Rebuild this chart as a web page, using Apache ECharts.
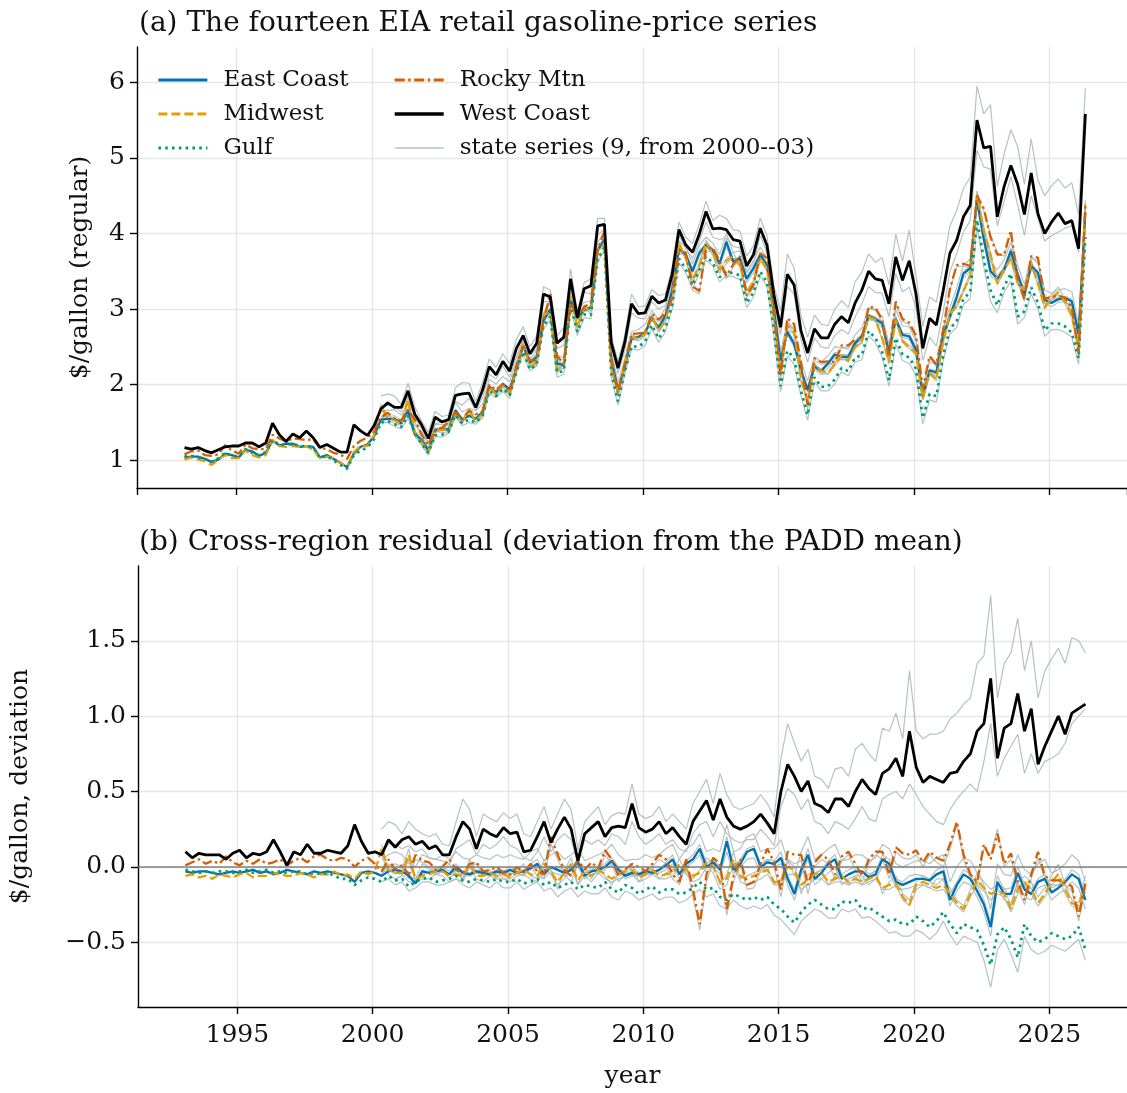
<!DOCTYPE html>
<html>
<head>
<meta charset="utf-8">
<script src="https://cdn.jsdelivr.net/npm/echarts@6/dist/echarts.min.js"></script>
<style>
  html, body { margin: 0; padding: 0; background: #ffffff; }
  #chart { width: 1127px; height: 1093px; }
</style>
</head>
<body>
<div id="chart"></div>
<script>
// Quarterly observations, February 1993 to May 2026 ($/gallon, regular grade)
const firstObs = 1993 + 1 / 12;
const stepYears = 0.25;
const stateStart = 29;          // first state observation: May 2000

// Mean of the five PADD series
const paddMean = [
  1.07,1.09,1.08,1.05, 1.02,1.06,1.13,1.10, 1.08,1.17,1.14,1.10, 1.13,1.31,1.24,1.24,
  1.25,1.22,1.24,1.21, 1.08,1.10,1.06,1.02, 0.97,1.19,1.22,1.24, 1.36,1.60,1.58,1.57,
  1.52,1.72,1.46,1.30, 1.17,1.43,1.43,1.46, 1.66,1.58,1.64,1.58, 1.68,2.02,1.93,2.05,
  1.96,2.25,2.55,2.30, 2.35,2.90,3.00,2.30, 2.30,3.15,2.85,3.05, 3.05,3.80,3.92,2.30,
  1.95,2.30,2.65,2.68, 2.72,2.92,2.78,2.90, 3.20,3.85,3.70,3.45, 3.62,3.85,3.75,3.62,
  3.72,3.65,3.65,3.30, 3.42,3.72,3.55,2.98, 2.26,2.78,2.72,2.22, 1.85,2.32,2.22,2.26,
  2.35,2.45,2.42,2.58, 2.67,2.98,2.92,2.76, 2.42,2.97,2.78,2.74, 2.54,1.92,2.28,2.21,
  2.68,3.12,3.28,3.52, 3.62,4.60,4.18,3.90, 3.50,3.70,3.95,3.50, 3.35,3.75,3.58,3.20,
  3.25,3.27,3.25,3.15, 2.75,4.50
];

// Deviation of each PADD from the PADD mean
const devEastCoast = [
  -0.03,-0.04,-0.03,-0.03, -0.04,-0.05,-0.04,-0.03, -0.04,-0.03,-0.02,-0.04, -0.03,-0.05,-0.04,-0.02,
  -0.03,-0.04,-0.05,-0.03, -0.04,-0.03,-0.04,-0.05, -0.06,-0.10,-0.04,-0.03, -0.04,-0.06,-0.03,-0.02,
  -0.03,-0.06,-0.11,-0.03, -0.04,-0.03,-0.02,-0.05, 0.00,-0.04,-0.05,-0.03, -0.04,-0.05,-0.03,-0.04,
  -0.02,-0.04,-0.03,-0.01, 0.02,-0.05,0.00,-0.02, -0.04,-0.02,0.03,-0.06, -0.03,-0.02,0.00,0.04,
  -0.02,-0.06,-0.04,-0.05, -0.03,-0.04,-0.02,0.01, 0.05,-0.05,0.02,0.05, 0.12,0.00,0.03,-0.02,
  0.17,-0.02,0.02,0.10, 0.12,0.00,0.03,0.02, 0.06,-0.08,-0.18,-0.02, 0.08,-0.08,-0.04,0.02,
  0.05,-0.08,-0.05,-0.03, -0.03,-0.07,-0.05,0.05, 0.02,-0.10,-0.12,-0.10, -0.08,-0.08,-0.09,-0.05,
  -0.03,-0.22,-0.12,-0.05, -0.08,-0.16,-0.25,-0.40, -0.10,-0.18,-0.18,-0.04, -0.15,-0.18,-0.10,-0.08,
  -0.17,-0.14,-0.10,-0.05, -0.08,-0.22
];
const devMidwest = [
  -0.06,-0.05,-0.07,-0.06, -0.08,-0.05,-0.06,-0.07, -0.05,-0.04,-0.07,-0.06, -0.06,-0.04,-0.05,-0.06,
  -0.06,-0.04,-0.05,-0.07, -0.05,-0.05,-0.03,-0.06, -0.05,-0.08,-0.03,-0.05, -0.03,0.12,-0.02,-0.04,
  -0.04,0.08,-0.08,-0.06, -0.05,-0.03,-0.03,-0.06, -0.05,-0.06,0.02,-0.06, -0.06,-0.04,-0.06,-0.05,
  -0.07,-0.04,-0.02,-0.05, -0.06,0.02,-0.03,-0.10, -0.04,0.02,-0.09,-0.03, -0.06,-0.02,-0.05,-0.08,
  -0.05,-0.03,-0.02,-0.07, -0.05,-0.02,-0.06,-0.05, -0.04,0.02,-0.02,-0.06, -0.04,0.03,0.00,-0.10,
  -0.08,0.05,-0.06,-0.08, -0.06,-0.04,-0.02,-0.10, -0.10,0.00,-0.02,-0.12, -0.08,-0.05,-0.04,-0.10,
  -0.08,-0.06,-0.10,-0.08, -0.10,-0.08,-0.06,-0.14, -0.12,-0.11,-0.20,-0.25, -0.12,-0.10,-0.12,-0.14,
  -0.12,-0.18,-0.24,-0.28, -0.18,-0.09,-0.14,-0.18, -0.16,-0.18,-0.28,-0.15, -0.10,-0.15,-0.24,-0.18,
  -0.10,-0.05,-0.15,-0.24, -0.26,-0.12
];
const devGulf = [
  -0.02,-0.03,-0.04,-0.03, -0.04,-0.03,-0.03,-0.04, -0.03,-0.02,-0.04,-0.03, -0.02,-0.04,-0.03,-0.04,
  -0.03,-0.03,-0.05,-0.04, -0.05,-0.04,-0.06,-0.08, -0.08,-0.12,-0.09,-0.07, -0.08,-0.10,-0.06,-0.09,
  -0.08,-0.13,-0.10,-0.08, -0.07,-0.10,-0.09,-0.08, -0.06,-0.09,-0.10,-0.08, -0.09,-0.10,-0.08,-0.10,
  -0.10,-0.08,-0.11,-0.10, -0.08,-0.12,-0.10,-0.14, -0.12,-0.10,-0.15,-0.12, -0.13,-0.14,-0.10,-0.15,
  -0.17,-0.12,-0.14,-0.18, -0.15,-0.13,-0.17,-0.15, -0.15,-0.18,-0.17,-0.14, -0.10,-0.15,-0.14,-0.20,
  -0.22,-0.18,-0.20,-0.22, -0.20,-0.22,-0.20,-0.25, -0.28,-0.33,-0.37,-0.30, -0.25,-0.22,-0.25,-0.28,
  -0.28,-0.23,-0.24,-0.22, -0.28,-0.27,-0.30,-0.33, -0.36,-0.35,-0.38,-0.38, -0.33,-0.36,-0.40,-0.36,
  -0.30,-0.38,-0.44,-0.38, -0.40,-0.42,-0.52,-0.65, -0.45,-0.40,-0.48,-0.60, -0.38,-0.46,-0.50,-0.48,
  -0.44,-0.46,-0.48,-0.46, -0.40,-0.55
];
const devRockyMtn = [
  0.01,0.03,0.05,0.02, 0.04,0.02,0.07,0.03, 0.01,0.04,0.02,0.05, 0.02,0.03,0.05,0.01,
  0.04,0.06,0.03,0.07, 0.08,0.05,0.04,0.06, 0.05,0.00,0.04,0.06, 0.02,-0.03,0.05,-0.02,
  0.01,-0.05,0.08,0.04, 0.03,-0.02,0.00,0.05, -0.02,-0.04,0.02,0.03, -0.03,-0.02,0.00,-0.04,
  -0.05,0.00,-0.04,0.02, -0.03,-0.05,0.20,0.08, -0.02,-0.06,0.05,-0.02, 0.03,-0.01,0.11,0.05,
  -0.06,-0.02,0.02,0.00, -0.03,0.02,0.08,0.05, -0.05,-0.10,0.05,-0.15, -0.38,-0.05,0.06,0.02,
  -0.28,-0.06,0.05,-0.12, -0.10,0.02,0.12,0.03, -0.15,0.10,0.08,0.08, -0.12,0.03,0.08,0.05,
  -0.05,0.07,0.10,0.02, -0.06,0.05,0.10,0.10, -0.05,0.13,0.09,0.08, 0.11,0.03,0.10,0.06,
  0.04,0.15,0.30,0.08, -0.05,-0.10,0.15,0.05, 0.22,0.02,0.09,-0.10, -0.22,-0.05,0.10,-0.06,
  -0.09,-0.09,-0.10,-0.13, -0.33,-0.11
];
const devWestCoast = [
  0.10,0.06,0.09,0.08, 0.08,0.08,0.05,0.09, 0.11,0.06,0.09,0.08, 0.10,0.18,0.10,0.01,
  0.10,0.08,0.15,0.09, 0.09,0.11,0.10,0.09, 0.14,0.28,0.17,0.09, 0.10,0.08,0.18,0.13,
  0.18,0.20,0.15,0.17, 0.12,0.14,0.08,0.08, 0.20,0.30,0.25,0.12, 0.25,0.22,0.20,0.26,
  0.22,0.23,0.10,0.11, 0.20,0.30,0.16,0.25, 0.33,0.25,0.04,0.22, 0.26,0.30,0.20,0.26,
  0.27,0.26,0.42,0.26, 0.23,0.25,0.30,0.22, 0.26,0.20,0.15,0.30, 0.37,0.44,0.31,0.45,
  0.33,0.27,0.25,0.27, 0.30,0.35,0.29,0.22, 0.50,0.68,0.60,0.50, 0.57,0.42,0.40,0.36,
  0.45,0.45,0.40,0.50, 0.58,0.52,0.48,0.62, 0.65,0.72,0.60,0.90, 0.66,0.56,0.60,0.58,
  0.56,0.62,0.63,0.70, 0.75,0.90,0.95,1.25, 0.72,0.92,0.95,1.15, 0.90,1.05,0.68,0.80,
  0.90,1.00,0.88,1.02, 1.05,1.08
];

// State series (May 2000 onward), deviation from the PADD mean
const devCA = [
  0.25,0.30,0.28, 0.22,0.30,0.25,0.22, 0.20,0.22,0.15,0.14, 0.30,0.45,0.38,0.20, 0.35,0.32,0.30,0.36,
  0.32,0.35,0.22,0.20, 0.30,0.40,0.25,0.35, 0.45,0.38,0.12,0.30, 0.35,0.40,0.28,0.34, 0.36,0.35,0.55,0.35,
  0.32,0.34,0.40,0.30, 0.35,0.30,0.25,0.42, 0.50,0.58,0.42,0.62, 0.48,0.40,0.38,0.40, 0.42,0.48,0.42,0.33,
  0.72,0.95,0.82,0.70, 0.78,0.60,0.58,0.52, 0.65,0.66,0.60,0.78, 0.82,0.75,0.70,0.92, 0.90,1.02,0.85,1.30,
  0.90,0.85,0.88,0.88, 0.90,0.98,1.02,1.08, 1.12,1.35,1.40,1.80, 1.12,1.35,1.42,1.65, 1.30,1.50,1.12,1.30,
  1.38,1.45,1.35,1.52, 1.50,1.42
];
const devWA = [
  0.10,0.15,0.15, 0.12,0.14,0.10,0.12, 0.06,0.05,0.04,0.02, 0.12,0.15,0.18,0.08, 0.15,0.12,0.15,0.20,
  0.14,0.12,0.06,0.04, 0.10,0.20,0.10,0.18, 0.22,0.18,0.02,0.18, 0.15,0.18,0.14,0.22, 0.20,0.15,0.30,0.20,
  0.15,0.18,0.22,0.15, 0.18,0.12,0.10,0.22, 0.28,0.30,0.20,0.30, 0.22,0.18,0.16,0.18, 0.18,0.25,0.20,0.14,
  0.40,0.52,0.48,0.38, 0.45,0.30,0.28,0.22, 0.30,0.28,0.25,0.32, 0.40,0.32,0.30,0.45, 0.48,0.50,0.45,0.55,
  0.48,0.40,0.35,0.30, 0.28,0.38,0.45,0.50, 0.55,0.50,0.70,0.95, 0.60,0.72,0.80,0.88, 0.62,0.75,0.62,0.70,
  0.72,0.75,0.82,0.95, 1.00,1.05
];
const devCO = [
  -0.05,0.02,-0.04, 0.00,-0.08,0.05,0.03, 0.00,-0.05,-0.03,0.02, -0.05,-0.08,0.00,0.02, -0.06,-0.05,-0.03,-0.08,
  -0.08,-0.04,-0.06,0.00, -0.06,-0.08,0.15,0.05, -0.05,-0.10,0.02,-0.06, 0.00,-0.05,0.08,0.02, -0.10,-0.05,0.00,-0.04,
  -0.06,0.00,0.05,0.02, -0.08,-0.12,0.02,-0.20, -0.42,-0.10,0.03,-0.02, -0.32,-0.10,0.02,-0.15, -0.14,-0.02,0.05,0.00,
  -0.20,0.05,0.02,0.04, -0.18,0.00,0.05,0.02, -0.08,0.04,0.08,-0.02, -0.10,0.02,0.08,0.05, -0.08,0.10,0.06,0.05,
  0.08,0.00,0.08,0.03, 0.00,0.12,0.28,0.05, -0.08,-0.12,0.12,0.08, 0.25,0.00,0.05,-0.14, -0.25,-0.08,0.06,-0.08,
  -0.12,-0.12,-0.12,-0.16, -0.36,-0.14
];
const devMN = [
  0.08,-0.05,-0.08, -0.06,0.05,-0.10,-0.08, -0.08,-0.05,-0.06,-0.10, -0.08,-0.10,0.00,-0.08, -0.10,-0.06,-0.08,-0.08,
  -0.10,-0.06,-0.05,-0.08, -0.10,0.00,-0.05,-0.12, -0.08,0.00,-0.12,-0.06, -0.10,-0.04,-0.08,-0.10, -0.08,-0.06,-0.05,-0.10,
  -0.08,-0.05,-0.08,-0.08, -0.06,0.00,-0.05,-0.10, -0.08,0.00,-0.04,-0.15, -0.12,0.02,-0.10,-0.12, -0.10,-0.08,-0.05,-0.12,
  -0.12,-0.05,-0.05,-0.15, -0.12,-0.08,-0.08,-0.12, -0.10,-0.10,-0.12,-0.10, -0.12,-0.10,-0.08,-0.15, -0.15,-0.12,-0.22,-0.26,
  -0.15,-0.12,-0.14,-0.16, -0.15,-0.20,-0.26,-0.30, -0.20,-0.12,-0.16,-0.22, -0.18,-0.20,-0.30,-0.18, -0.12,-0.18,-0.26,-0.20,
  -0.12,-0.08,-0.18,-0.26, -0.28,-0.16
];
const devOH = [
  0.15,-0.02,-0.05, -0.02,0.12,-0.10,-0.05, -0.03,0.00,-0.02,-0.08, -0.02,-0.08,0.05,-0.04, -0.05,-0.02,-0.08,-0.02,
  -0.06,-0.02,0.02,-0.06, -0.08,0.05,-0.02,-0.15, -0.02,0.06,-0.12,0.00, -0.08,0.00,-0.06,-0.12, -0.04,-0.02,0.02,-0.10,
  -0.04,0.00,-0.08,-0.04, -0.02,0.05,-0.04,-0.08, -0.02,0.06,0.02,-0.12, -0.05,0.10,-0.08,-0.06, -0.04,-0.02,0.00,-0.12,
  -0.08,0.04,0.00,-0.18, -0.05,-0.04,-0.02,-0.12, -0.06,-0.05,-0.12,-0.06, -0.12,-0.06,-0.02,-0.18, -0.10,-0.06,-0.18,-0.22,
  -0.10,-0.06,-0.10,-0.12, -0.08,-0.14,-0.22,-0.26, -0.15,-0.04,-0.10,-0.15, -0.12,-0.14,-0.26,-0.10, -0.06,-0.10,-0.20,-0.14,
  -0.06,0.02,-0.12,-0.22, -0.24,-0.06
];
const devNY = [
  0.05,0.08,0.10, 0.08,0.02,0.00,0.08, 0.06,0.05,0.08,0.05, 0.10,0.06,0.05,0.08, 0.06,0.05,0.08,0.06,
  0.08,0.06,0.05,0.10, 0.12,0.04,0.08,0.10, 0.05,0.08,0.12,0.04, 0.06,0.08,0.10,0.15, 0.08,0.04,0.05,0.05,
  0.08,0.06,0.08,0.12, 0.15,0.05,0.12,0.15, 0.22,0.10,0.12,0.10, 0.28,0.10,0.12,0.20, 0.22,0.10,0.12,0.12,
  0.18,0.04,-0.06,0.10, 0.20,0.05,0.08,0.12, 0.15,0.04,0.05,0.08, 0.08,0.04,0.06,0.15, 0.12,0.02,0.00,0.02,
  0.04,0.04,0.02,0.06, 0.08,-0.10,0.00,0.06, 0.04,-0.04,-0.12,-0.28, 0.02,-0.05,-0.06,0.08, -0.02,-0.05,0.02,0.05,
  -0.04,-0.02,0.02,0.08, 0.04,-0.10
];
const devMA = [
  -0.02,0.00,0.02, 0.00,-0.06,-0.08,0.02, -0.02,-0.02,0.00,-0.03, 0.02,-0.03,-0.04,-0.02, -0.03,-0.04,-0.02,-0.03,
  0.00,-0.03,-0.02,0.02, 0.05,-0.04,0.00,0.00, -0.02,0.00,0.05,-0.04, -0.02,0.00,0.02,0.06, 0.00,-0.05,-0.03,-0.04,
  -0.02,-0.03,-0.02,0.03, 0.08,-0.04,0.04,0.08, 0.15,0.02,0.05,0.00, 0.20,0.00,0.05,0.12, 0.14,0.02,0.05,0.04,
  0.10,-0.06,-0.15,0.00, 0.12,-0.05,-0.02,0.04, 0.08,-0.05,-0.02,0.00, 0.00,-0.05,-0.03,0.08, 0.05,-0.08,-0.10,-0.06,
  -0.05,-0.06,-0.08,-0.02, 0.00,-0.18,-0.10,-0.02, -0.05,-0.12,-0.22,-0.36, -0.06,-0.15,-0.14,0.00, -0.12,-0.15,-0.08,-0.05,
  -0.14,-0.12,-0.08,-0.02, -0.05,-0.18
];
const devFL = [
  -0.04,-0.02,-0.04, -0.05,-0.10,-0.10,-0.02, -0.04,-0.05,-0.03,-0.05, 0.00,-0.06,-0.06,-0.04, -0.05,-0.06,-0.04,-0.05,
  -0.04,-0.05,-0.02,0.00, -0.02,-0.08,-0.03,-0.05, -0.06,-0.05,0.00,-0.08, -0.05,-0.04,-0.02,0.02, -0.04,-0.08,-0.06,-0.06,
  -0.05,-0.05,-0.04,-0.02, 0.02,-0.08,0.00,0.03, 0.08,-0.04,0.00,-0.05, 0.10,-0.05,0.00,0.05, 0.06,-0.04,0.00,0.00,
  0.02,-0.12,-0.22,-0.06, 0.05,-0.12,-0.08,-0.04, 0.00,-0.12,-0.08,-0.06, -0.06,-0.12,-0.08,0.00, -0.03,-0.14,-0.15,-0.14,
  -0.12,-0.12,-0.14,-0.08, -0.08,-0.26,-0.16,-0.10, -0.12,-0.20,-0.30,-0.46, -0.14,-0.22,-0.24,-0.10, -0.20,-0.22,-0.14,-0.12,
  -0.22,-0.18,-0.15,-0.10, -0.14,-0.28
];
const devTX = [
  -0.10,-0.08,-0.12, -0.10,-0.16,-0.14,-0.10, -0.10,-0.12,-0.12,-0.10, -0.08,-0.12,-0.14,-0.10, -0.12,-0.14,-0.10,-0.14,
  -0.14,-0.10,-0.15,-0.12, -0.10,-0.16,-0.14,-0.20, -0.16,-0.14,-0.20,-0.16, -0.18,-0.18,-0.14,-0.20, -0.22,-0.16,-0.18,-0.22,
  -0.20,-0.18,-0.22,-0.20, -0.20,-0.24,-0.22,-0.18, -0.15,-0.20,-0.18,-0.26, -0.28,-0.22,-0.26,-0.28, -0.26,-0.28,-0.25,-0.32,
  -0.35,-0.40,-0.45,-0.36, -0.32,-0.28,-0.30,-0.34, -0.34,-0.28,-0.30,-0.28, -0.34,-0.33,-0.36,-0.40, -0.44,-0.43,-0.46,-0.46,
  -0.42,-0.44,-0.48,-0.44, -0.36,-0.45,-0.52,-0.46, -0.48,-0.50,-0.62,-0.80, -0.55,-0.48,-0.58,-0.70, -0.46,-0.55,-0.58,-0.56,
  -0.52,-0.54,-0.56,-0.52, -0.48,-0.62
];

const STATE_NAME = 'state series (9, from 2000--03)';
const STATE_COLOR = '#a9b7b7';
const FONT = 'DejaVu Serif';
const TEXT = '#111111';

const obsYear = paddMean.map((_, i) => firstObs + i * stepYears);
const round3 = v => Math.round(v * 1000) / 1000;

const paddDefs = [
  { name: 'East Coast', dev: devEastCoast, color: '#0072B2', width: 2.3, type: 'solid' },
  { name: 'Midwest',    dev: devMidwest,   color: '#E69F00', width: 2.3, type: [9, 4] },
  { name: 'Gulf',       dev: devGulf,      color: '#009E73', width: 2.7, type: [2.6, 4.2] },
  { name: 'Rocky Mtn',  dev: devRockyMtn,  color: '#D55E00', width: 2.3, type: [10, 3.5, 2.5, 3.5] },
  { name: 'West Coast', dev: devWestCoast, color: '#000000', width: 2.8, type: 'solid' }
];
const stateDevs = [devCA, devWA, devCO, devMN, devOH, devNY, devMA, devFL, devTX];

// panel 0: price level (mean + deviation); panel 1: deviation only
function points(dev, offset, panel) {
  return dev.map((d, k) => {
    const i = k + offset;
    return [obsYear[i], panel === 0 ? round3(paddMean[i] + d) : d];
  });
}

const series = [];
[0, 1].forEach(panel => {
  stateDevs.forEach((dev, s) => {
    const item = {
      type: 'line', name: STATE_NAME, xAxisIndex: panel, yAxisIndex: panel,
      data: points(dev, stateStart, panel),
      showSymbol: false, symbol: 'none', silent: true,
      lineStyle: { color: STATE_COLOR, width: 1.2, opacity: 0.85 },
      itemStyle: { color: STATE_COLOR }
    };
    if (panel === 1 && s === 0) {
      item.markLine = {
        silent: true, symbol: 'none', label: { show: false },
        lineStyle: { color: '#808080', width: 1.5, type: 'solid' },
        data: [{ yAxis: 0 }]
      };
    }
    series.push(item);
  });
  paddDefs.forEach(p => {
    series.push({
      type: 'line', name: p.name, xAxisIndex: panel, yAxisIndex: panel,
      data: points(p.dev, 0, panel),
      showSymbol: false, symbol: 'none', silent: true,
      lineStyle: { color: p.color, width: p.width, type: p.type },
      itemStyle: { color: p.color }
    });
  });
});

// legend entries: line sample only, no marker
function legendEntry(name, color, width, type) {
  return { name, itemStyle: { opacity: 0 }, lineStyle: { color, width, type } };
}
const byName = Object.fromEntries(paddDefs.map(p => [p.name, p]));
const legendText = { fontFamily: FONT, fontSize: 23, color: TEXT, padding: [0, 0, 0, 11], lineHeight: 26 };

const axisCommon = {
  axisLine: { show: true, onZero: false, lineStyle: { color: '#000', width: 1.4 } },
  axisTick: { show: true, inside: false, length: 7, lineStyle: { color: '#000', width: 1.4 } },
  splitLine: { show: true, showMinLine: false, showMaxLine: false, lineStyle: { color: '#e6e6e6', width: 1.4 } }
};

function xAxis(gridIndex, withLabels) {
  return Object.assign({}, axisCommon, {
    type: 'value', gridIndex, min: 1991.33, max: 2027.87,
    splitNumber: 7, minInterval: 5, maxInterval: 5,
    axisLabel: {
      show: withLabels, showMinLabel: false, showMaxLabel: false,
      fontFamily: FONT, fontSize: 25, color: TEXT, margin: 16,
      formatter: v => String(Math.round(v))
    },
    name: withLabels ? 'year' : '', nameLocation: 'middle', nameGap: 57,
    nameTextStyle: { fontFamily: FONT, fontSize: 25, color: TEXT }
  });
}

const option = {
  animation: false,
  backgroundColor: '#ffffff',
  title: [
    { text: '(a) The fourteen EIA retail gasoline-price series', left: 134, top: 5,
      textStyle: { fontFamily: FONT, fontSize: 28, fontWeight: 'normal', color: TEXT } },
    { text: '(b) Cross-region residual (deviation from the PADD mean)', left: 134, top: 524,
      textStyle: { fontFamily: FONT, fontSize: 28, fontWeight: 'normal', color: TEXT } }
  ],
  legend: [
    { data: ['East Coast', 'Midwest', 'Gulf'].map(n => legendEntry(n, byName[n].color, 2.8, byName[n].type)),
      orient: 'vertical', left: 152, top: 62,
      itemWidth: 49, itemHeight: 12, itemGap: 8, selectedMode: false, textStyle: legendText },
    { data: [
        legendEntry('Rocky Mtn', byName['Rocky Mtn'].color, 2.8, byName['Rocky Mtn'].type),
        legendEntry('West Coast', '#000000', 3.4, 'solid'),
        legendEntry(STATE_NAME, STATE_COLOR, 1.5, 'solid')
      ],
      orient: 'vertical', left: 388, top: 62,
      itemWidth: 49, itemHeight: 12, itemGap: 8, selectedMode: false, textStyle: legendText }
  ],
  grid: [
    { left: 137, right: 0, top: 47, height: 441, containLabel: false },
    { left: 137, right: 0, top: 566, height: 441, containLabel: false }
  ],
  xAxis: [xAxis(0, false), xAxis(1, true)],
  yAxis: [
    Object.assign({}, axisCommon, {
      type: 'value', gridIndex: 0, min: 0.635, max: 6.465, splitNumber: 6, minInterval: 1, maxInterval: 1,
      axisLabel: { showMinLabel: false, showMaxLabel: false, fontFamily: FONT, fontSize: 25, color: TEXT, margin: 12 },
      name: '$/gallon (regular)', nameLocation: 'middle', nameGap: 44,
      nameTextStyle: { fontFamily: FONT, fontSize: 25, color: TEXT }
    }),
    Object.assign({}, axisCommon, {
      type: 'value', gridIndex: 1, min: -0.93, max: 1.996, splitNumber: 6, minInterval: 0.5, maxInterval: 0.5,
      axisLabel: {
        showMinLabel: false, showMaxLabel: false, fontFamily: FONT, fontSize: 25, color: TEXT, margin: 12,
        formatter: v => (v < 0 ? '\u2212' : '') + Math.abs(v).toFixed(1)
      },
      name: '$/gallon, deviation', nameLocation: 'middle', nameGap: 105,
      nameTextStyle: { fontFamily: FONT, fontSize: 25, color: TEXT }
    })
  ],
  series
};

const chart = echarts.init(document.getElementById('chart'), null, { renderer: 'canvas' });
chart.setOption(option);
</script>
</body>
</html>
